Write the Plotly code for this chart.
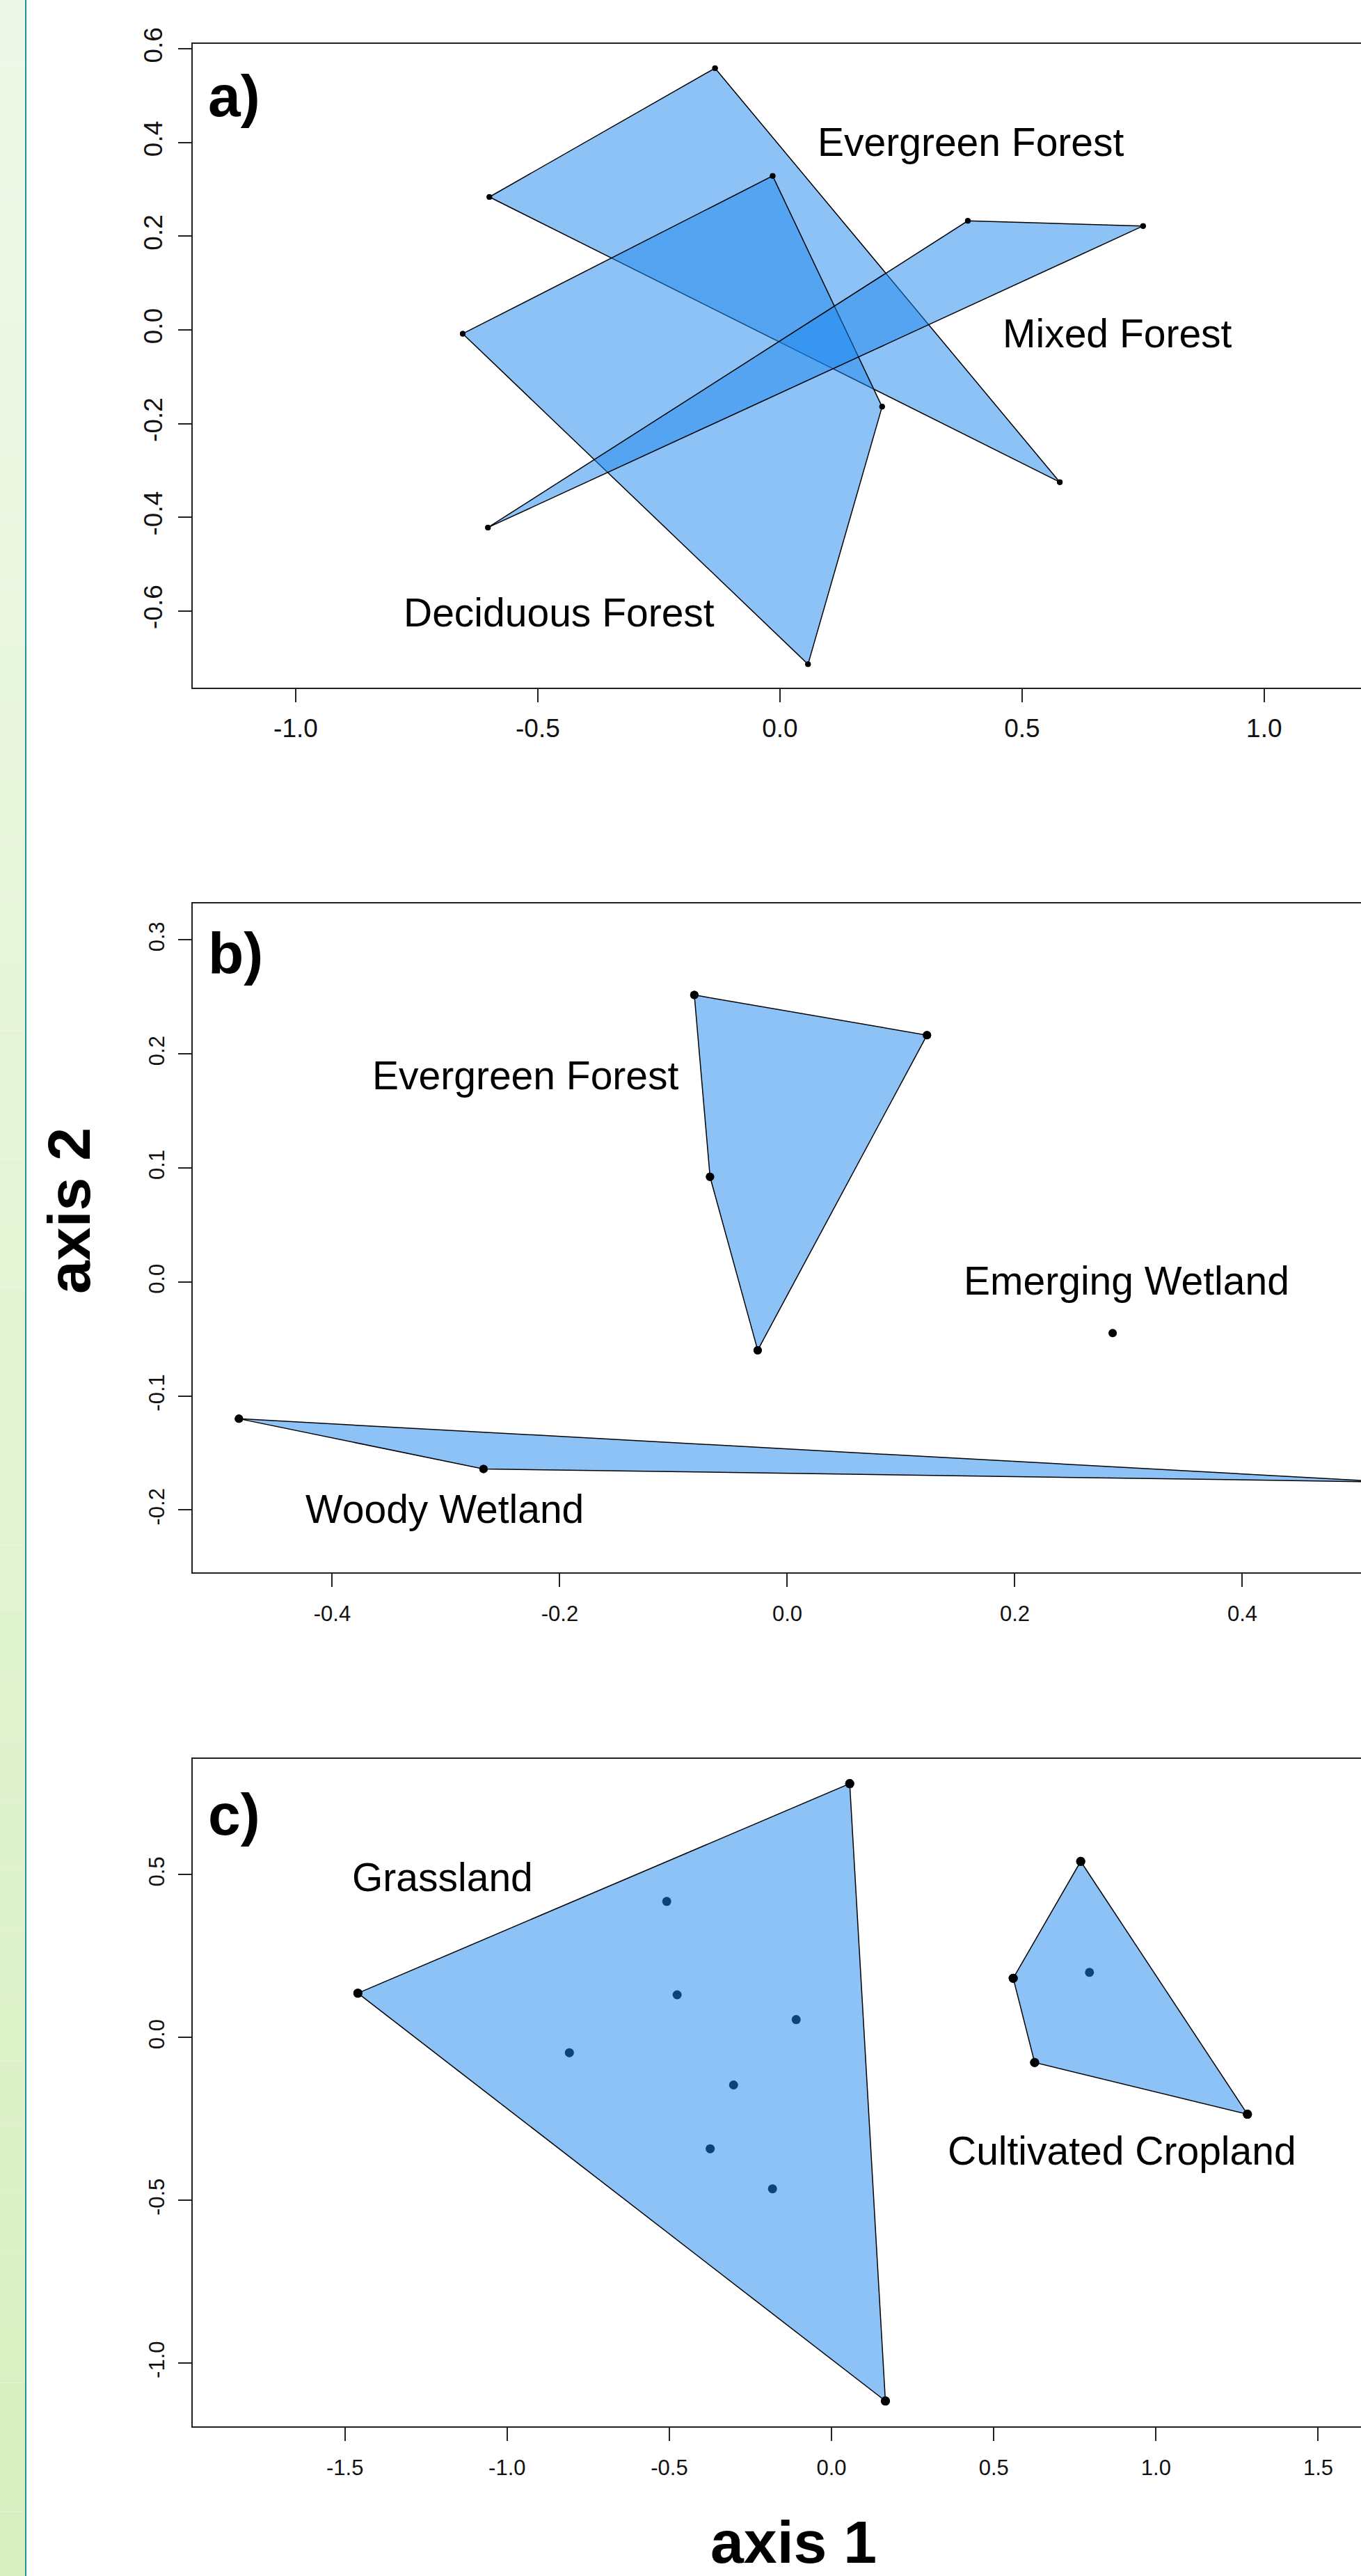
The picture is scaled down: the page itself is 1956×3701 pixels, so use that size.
import plotly.graph_objects as go

# ---------------- data ----------------
# Panel a) forests
a_evergreen_x = [-0.134, -0.600, 0.578]
a_evergreen_y = [0.559, 0.284, -0.325]
a_deciduous_x = [-0.015, -0.655, 0.058, 0.211]
a_deciduous_y = [0.329, -0.008, -0.714, -0.164]
a_mixed_x = [0.388, 0.750, -0.603]
a_mixed_y = [0.233, 0.222, -0.422]

# Panel b) forest / wetlands
b_evergreen_x = [-0.0817, 0.1228, -0.0679, -0.026]
b_evergreen_y = [0.2517, 0.2165, 0.0922, -0.0599]
b_emerging_x = [0.286]
b_emerging_y = [-0.0449]
b_woody_x = [-0.482, -0.267, 0.530]
b_woody_y = [-0.120, -0.164, -0.1755]

# Panel c) grassland / cropland
c_grass_x = [0.056, -1.460, 0.166, -0.508, -0.476, -0.109, -0.808, -0.302, -0.374, -0.182]
c_grass_y = [0.780, 0.136, -1.117, 0.418, 0.131, 0.055, -0.047, -0.146, -0.342, -0.465]
c_crop_x = [0.768, 0.560, 0.626, 1.282, 0.795]
c_crop_y = [0.541, 0.182, -0.077, -0.236, 0.200]

a_xticks = [-1.0, -0.5, 0.0, 0.5, 1.0]
a_yticks = [-0.6, -0.4, -0.2, 0.0, 0.2, 0.4, 0.6]
b_xticks = [-0.4, -0.2, 0.0, 0.2, 0.4]
b_yticks = [-0.2, -0.1, 0.0, 0.1, 0.2, 0.3]
c_xticks = [-1.5, -1.0, -0.5, 0.0, 0.5, 1.0, 1.5]
c_yticks = [-1.0, -0.5, 0.0, 0.5]

# ---------------- helpers ----------------
W, H = 1956, 3701
FILL = "rgba(28,134,238,0.5)"
FONT = "Liberation Sans, Arial, sans-serif"


def hull(xs, ys):
    pts = sorted(set(zip(xs, ys)))
    if len(pts) < 3:
        return pts

    def cross(o, a, b):
        return (a[0] - o[0]) * (b[1] - o[1]) - (a[1] - o[1]) * (b[0] - o[0])

    lower, upper = [], []
    for p in pts:
        while len(lower) >= 2 and cross(lower[-2], lower[-1], p) <= 0:
            lower.pop()
        lower.append(p)
    for p in reversed(pts):
        while len(upper) >= 2 and cross(upper[-2], upper[-1], p) <= 0:
            upper.pop()
        upper.append(p)
    return lower[:-1] + upper[:-1]


fig = go.Figure()


def add_group(xs, ys, xa, ya, msize):
    fig.add_trace(go.Scatter(x=xs, y=ys, mode="markers", xaxis=xa, yaxis=ya,
                             marker=dict(color="black", size=msize),
                             showlegend=False, hoverinfo="skip"))
    h = hull(xs, ys)
    if len(h) >= 3:
        hx = [p[0] for p in h] + [h[0][0]]
        hy = [p[1] for p in h] + [h[0][1]]
        fig.add_trace(go.Scatter(x=hx, y=hy, mode="lines", fill="toself",
                                 fillcolor=FILL, line=dict(color="black", width=1.5),
                                 xaxis=xa, yaxis=ya, showlegend=False, hoverinfo="skip"))
        fig.add_trace(go.Scatter(x=[p[0] for p in h], y=[p[1] for p in h], mode="markers",
                                 xaxis=xa, yaxis=ya, marker=dict(color="black", size=msize),
                                 showlegend=False, hoverinfo="skip"))


add_group(a_evergreen_x, a_evergreen_y, "x", "y", 8)
add_group(a_deciduous_x, a_deciduous_y, "x", "y", 8)
add_group(a_mixed_x, a_mixed_y, "x", "y", 8)
add_group(b_evergreen_x, b_evergreen_y, "x2", "y2", 12)
add_group(b_emerging_x, b_emerging_y, "x2", "y2", 12)
add_group(b_woody_x, b_woody_y, "x2", "y2", 12)
add_group(c_grass_x, c_grass_y, "x3", "y3", 13)
add_group(c_crop_x, c_crop_y, "x3", "y3", 13)


def fmt(v):
    return "%.1f" % v


def px_y(top, bottom):
    return [1 - bottom / H, 1 - top / H]


xdom = [277 / W, 1.0]
panels = [
    # suffix, x range, y range, top px, bottom px, x ticks, y ticks, tick font, x label standoff
    ("", [-1.2126, 1.2], [-0.764, 0.611], 63, 988, a_xticks, a_yticks, 37, 6),
    ("2", [-0.5226, 0.5043], [-0.2547, 0.332], 1298, 2259, b_xticks, b_yticks, 31, 12),
    ("3", [-1.969, 1.632], [-1.195, 0.856], 2527, 3486, c_xticks, c_yticks, 31, 12),
]

layout = dict(width=W, height=H, autosize=False,
              margin=dict(l=0, r=0, t=0, b=0, pad=0),
              paper_bgcolor="white", plot_bgcolor="white",
              font=dict(family=FONT, color="black"))

for suf, xr, yr, top, bot, xt, yt, tfs, xso in panels:
    layout["xaxis" + suf] = dict(
        domain=xdom, range=xr, anchor="y" + suf, showgrid=False, zeroline=False,
        automargin=False,
        showline=True, linecolor="#222", linewidth=2, mirror=True,
        ticks="outside", ticklen=19, tickwidth=2, tickcolor="#222",
        tickmode="array", tickvals=xt, ticktext=[fmt(v) for v in xt],
        tickfont=dict(size=tfs, family=FONT, color="#111"), ticklabelstandoff=xso)
    layout["yaxis" + suf] = dict(
        domain=px_y(top, bot), range=yr, anchor="x" + suf, showgrid=False, zeroline=False,
        automargin=False,
        showline=True, linecolor="#222", linewidth=2, mirror=False,
        ticks="outside", ticklen=19, tickwidth=2, tickcolor="#222",
        tickmode="array", tickvals=yt, ticktext=[fmt(v) for v in yt], tickangle=-90,
        tickfont=dict(size=tfs, family=FONT, color="#111"), ticklabelstandoff=8)

fig.update_layout(**layout)

labels = [
    ("x", "y", 0.395, 0.402, "Evergreen Forest"),
    ("x", "y", 0.697, -0.008, "Mixed Forest"),
    ("x", "y", -0.456, -0.604, "Deciduous Forest"),
    ("x2", "y2", -0.230, 0.181, "Evergreen Forest"),
    ("x2", "y2", 0.298, 0.001, "Emerging Wetland"),
    ("x2", "y2", -0.301, -0.199, "Woody Wetland"),
    ("x3", "y3", -1.199, 0.493, "Grassland"),
    ("x3", "y3", 0.896, -0.348, "Cultivated Cropland"),
]
for xr_, yr_, lx, ly, txt in labels:
    fig.add_annotation(x=lx, y=ly, xref=xr_, yref=yr_, text=txt, showarrow=False,
                       font=dict(size=57, family=FONT, color="black"),
                       xanchor="center", yanchor="middle")

for letter, ypx in [("a)", 138), ("b)", 1370), ("c)", 2607)]:
    fig.add_annotation(x=297 / W, y=1 - ypx / H, xref="paper", yref="paper",
                       text="<b>%s</b>" % letter, showarrow=False,
                       font=dict(size=84, family=FONT, color="black"),
                       xanchor="left", yanchor="middle")

fig.add_annotation(x=99 / W, y=1 - 1740 / H, xref="paper", yref="paper",
                   text="<b>axis 2</b>", textangle=-90, showarrow=False,
                   font=dict(size=86, family=FONT, color="black"),
                   xanchor="center", yanchor="middle")
fig.add_annotation(x=1140 / W, y=0, xref="paper", yref="paper",
                   text="<b>axis 1</b>", showarrow=False, borderpad=0,
                   font=dict(size=86, family=FONT, color="black"),
                   xanchor="center", yanchor="bottom")

# left green gradient strip with teal edge
n = 40
c0 = (239, 248, 232)
c1 = (216, 240, 193)
for i in range(n):
    t = i / (n - 1)
    col = "rgb(%d,%d,%d)" % tuple(round(c0[k] + (c1[k] - c0[k]) * t) for k in range(3))
    fig.add_shape(type="rect", xref="paper", yref="paper", x0=0, x1=36 / W,
                  y0=1 - (i + 1) / n, y1=1 - i / n, fillcolor=col,
                  line=dict(width=0), layer="below")
fig.add_shape(type="line", xref="paper", yref="paper", x0=37 / W, x1=37 / W, y0=0, y1=1,
              line=dict(color="#2a8aa0", width=2))

post = ("document.documentElement.style.margin='0';"
        "document.body.style.margin='0';document.body.style.padding='0';"
        "var gd=document.getElementById('{plot_id}');"
        "gd.style.position='absolute';gd.style.left='0px';gd.style.top='0px';")

fig.write_html("out.html", config={"displayModeBar": False}, post_script=post)
